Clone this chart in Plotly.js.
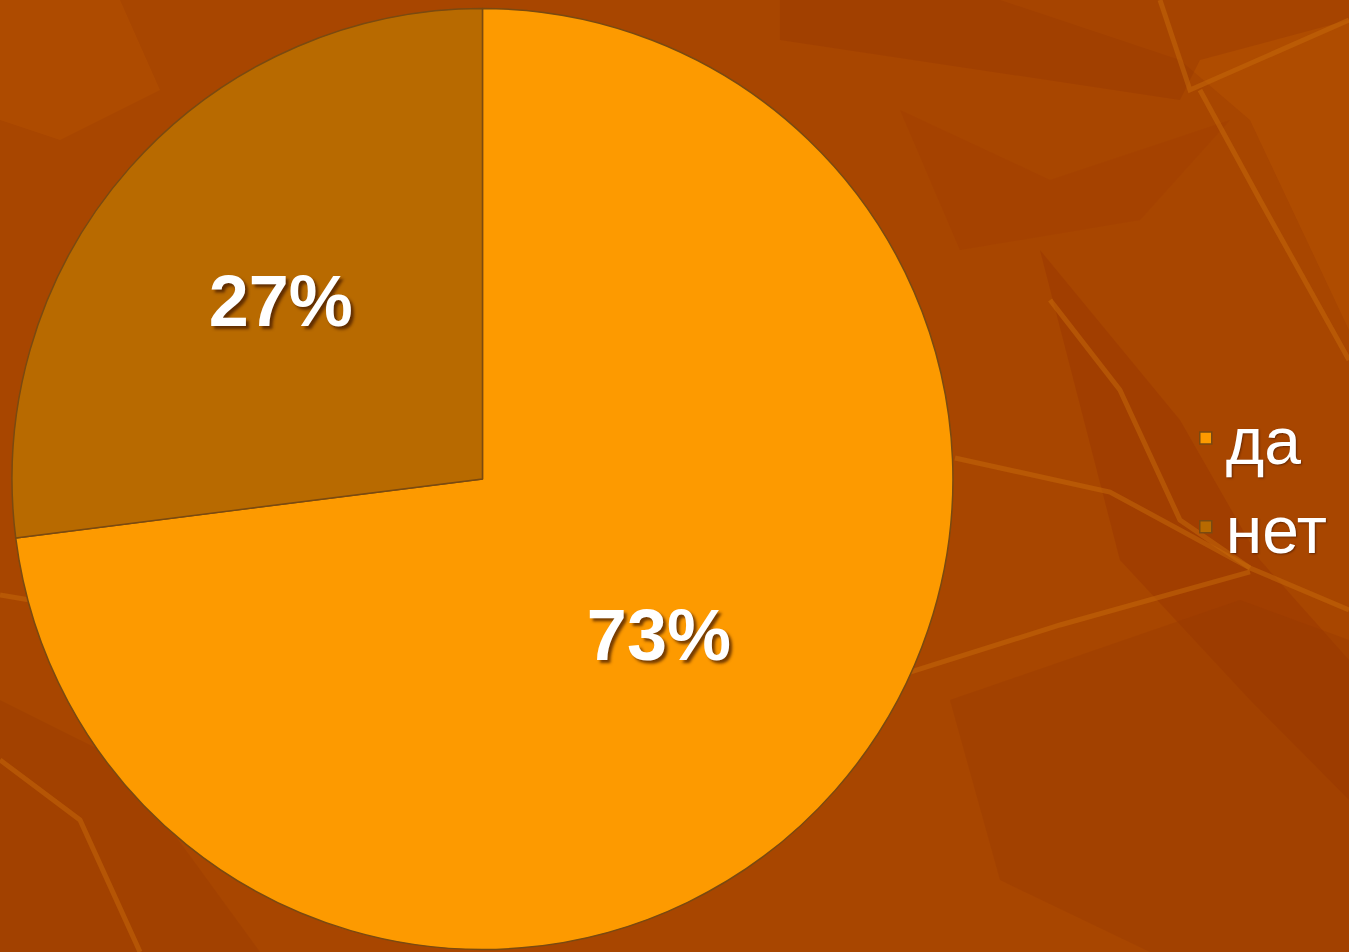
<!DOCTYPE html>
<html><head><meta charset="utf-8">
<script src="https://cdn.plot.ly/plotly-3.0.1.min.js"></script>
<style>html,body{margin:0;padding:0;background:#a84600;}#chart{width:1349px;height:952px;}</style>
</head><body><div id="chart"></div>
<script>
const labels = ["да", "нет"];
const values = [73, 27];
const colors = ["#fd9a00", "#b86a00"];

// decorative background texture (leaf veins), page pixels
const W = 1349, H = 952;
function pth(pts, close) {
  return pts.map((p, i) => (i ? "L" : "M") + (p[0] / W).toFixed(4) + "," + (1 - p[1] / H).toFixed(4)).join(" ") + (close ? " Z" : "");
}
const decor = [
  {pts: [[1000,0],[1349,0],[1349,330],[1250,120],[1180,60]], fill: "rgba(190,90,0,0.35)"},
  {pts: [[780,40],[1180,100],[1200,60],[1349,20],[1349,0],[780,0]], fill: "rgba(150,55,0,0.35)"},
  {pts: [[1040,250],[1180,420],[1260,560],[1349,660],[1349,800],[1250,700],[1120,560]], fill: "rgba(150,50,0,0.35)"},
  {pts: [[950,700],[1240,600],[1349,640],[1349,952],[1150,952],[1000,880]], fill: "rgba(150,55,0,0.30)"},
  {pts: [[900,110],[1050,180],[1230,120],[1140,220],[960,250]], fill: "rgba(160,60,0,0.35)"},
  {pts: [[0,0],[120,0],[160,90],[60,140],[0,120]], fill: "rgba(185,85,0,0.35)"},
  {pts: [[0,700],[120,760],[260,952],[0,952]], fill: "rgba(150,55,0,0.30)"}
];
const stems = [
  [[955,458],[1110,492],[1250,568],[1349,610]],
  [[910,672],[1060,625],[1250,572]],
  [[1050,300],[1120,390],[1180,520],[1250,568]],
  [[1160,0],[1190,90],[1349,20]],
  [[1200,90],[1260,200],[1349,360]],
  [[0,595],[30,600]],
  [[0,760],[80,820],[140,952]]
];
const shapes = decor.map(d => ({type: "path", xref: "paper", yref: "paper", layer: "below",
  path: pth(d.pts, true), fillcolor: d.fill, line: {width: 0}}))
  .concat(stems.map(s => ({type: "path", xref: "paper", yref: "paper", layer: "below",
  path: pth(s, false), line: {color: "rgba(200,105,10,0.5)", width: 5}})));

const trace = {
  type: "pie",
  labels: labels,
  values: values,
  sort: false,
  direction: "clockwise",
  rotation: 0,
  marker: {colors: colors, line: {color: "#7a4a10", width: 1.5}},
  texttemplate: "%{percent:.0%}",
  textposition: "inside",
  insidetextorientation: "horizontal",
  textfont: {family: "Liberation Sans, Arial, sans-serif", size: 72, color: "#ffffff", weight: "bold", shadow: "3px 3px 3px rgba(60,20,0,0.7)"},
  hoverinfo: "none",
  domain: {x: [0.0089, 0.7064], y: [0.0021, 0.9916]}
};

const layout = {
  width: W, height: H,
  margin: {l: 0, r: 0, t: 0, b: 0},
  paper_bgcolor: "#a84600",
  plot_bgcolor: "#a84600",
  shapes: shapes,
  showlegend: true,
  legend: {x: 0.879, y: 0.493, xanchor: "left", yanchor: "middle",
    font: {family: "Liberation Sans, Arial, sans-serif", size: 66, color: "#ffffff", shadow: "1px 1px 2px rgba(60,20,0,0.6)"},
    bgcolor: "rgba(0,0,0,0)", tracegroupgap: 0, itemwidth: 30}
};
Plotly.newPlot("chart", [trace], layout, {displayModeBar: false, staticPlot: true});
</script></body></html>
